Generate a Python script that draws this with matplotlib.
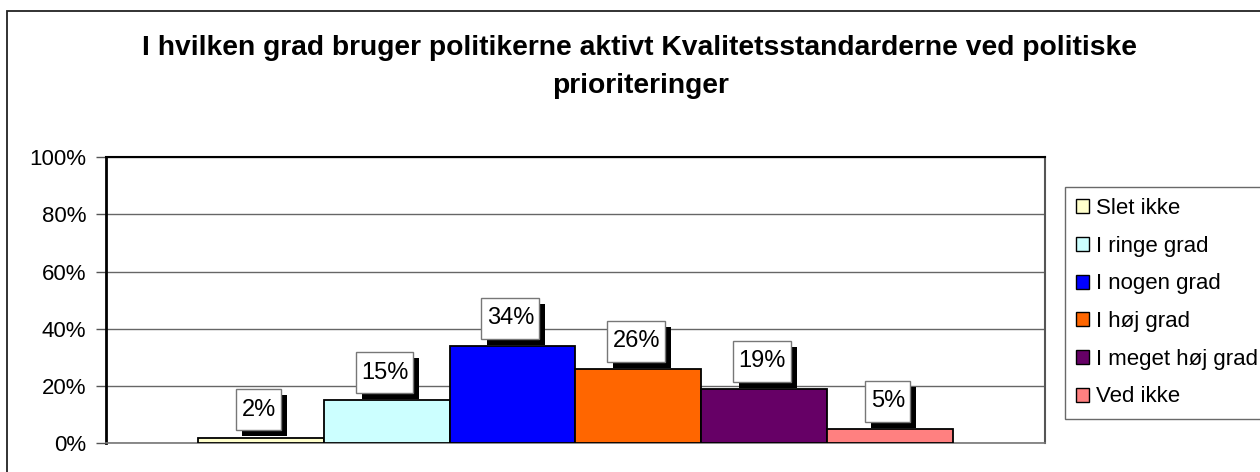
import matplotlib
matplotlib.use("Agg")
import matplotlib.pyplot as plt
import matplotlib.patheffects as pe
from matplotlib.patches import Rectangle, Patch
from matplotlib.path import Path

plt.rcParams['font.family'] = ['Liberation Sans', 'DejaVu Sans']

title_lines = ["I hvilken grad bruger politikerne aktivt Kvalitetsstandarderne ved politiske",
               "prioriteringer"]
categories = ["Slet ikke", "I ringe grad", "I nogen grad", "I høj grad",
              "I meget høj grad", "Ved ikke"]
values = [2, 15, 34, 26, 19, 5]
colors = ["#FFFFCC", "#CCFFFF", "#0000FF", "#FF6600", "#660066", "#FF8080"]
yticks = [0, 20, 40, 60, 80, 100]

W, H = 1260, 472
fig = plt.figure(figsize=(W / 100, H / 100), dpi=100)

# outer chart frame (runs off the right and bottom edge)
fig.patches.append(Rectangle((7 / W, -0.1), 1.2, 1 - 11 / H + 0.1,
                             transform=fig.transFigure, fill=False,
                             edgecolor="#222222", linewidth=1.3))

fig.text(640 / W, 1 - 55 / H, title_lines[0], ha="center", va="baseline",
         fontsize=20.3, fontweight="bold")
fig.text(641 / W, 1 - 93 / H, title_lines[1], ha="center", va="baseline",
         fontsize=20.3, fontweight="bold")

ax = fig.add_axes([105.7 / W, 1 - 443.3 / H, (1045 - 105.7) / W, (443.3 - 157.3) / H])

x = list(range(len(values)))
ax.bar(x, values, width=1.0, color=colors, edgecolor="black", linewidth=1.3, zorder=3)
ax.set_xlim(-0.5 - 0.733, len(values) - 0.5 + 0.733)
ax.set_ylim(0, 100)
ax.set_yticks(yticks)
ax.set_yticklabels([f"{t}%" for t in yticks], fontsize=16)
ax.set_xticks([])
ax.tick_params(axis="y", length=7, width=1, color="#555555", pad=7)
ax.yaxis.grid(True, color="#666666", linewidth=1)
ax.set_axisbelow(True)
ax.spines["left"].set_linewidth(2)
ax.spines["left"].set_color("black")
ax.spines["top"].set_linewidth(1.5)
ax.spines["top"].set_color("black")
ax.spines["right"].set_linewidth(1.5)
ax.spines["right"].set_color("#555555")
ax.spines["bottom"].set_linewidth(1.2)
ax.spines["bottom"].set_color("#777777")


def label_box(x0, y0, width, height, mutation_size):
    px = 0.22 * mutation_size
    py = 0.40 * mutation_size
    return Path([(x0 - px, y0 - py), (x0 + width + px, y0 - py),
                 (x0 + width + px, y0 + height + py), (x0 - px, y0 + height + py),
                 (x0 - px, y0 - py)], closed=True)


for xi, v in zip(x, values):
    t = ax.annotate(f"{v}%", (xi, v), xytext=(-1.5, 12), textcoords="offset points",
                    ha="center", va="bottom", fontsize=17, zorder=5,
                    bbox=dict(boxstyle=label_box, facecolor="white",
                              edgecolor="#777777", linewidth=1))
    t.get_bbox_patch().set_path_effects([
        pe.SimplePatchShadow(offset=(4.3, -4.3), shadow_rgbFace="black", alpha=1),
        pe.Normal()])

handles = [Patch(facecolor=c, edgecolor="black", linewidth=1) for c in colors]
leg = fig.legend(handles, categories, loc="upper left",
                 bbox_to_anchor=(1065 / W, 1 - 187 / H), fontsize=16,
                 frameon=True, fancybox=False, edgecolor="#444444",
                 handlelength=0.6, handleheight=0.6, handletextpad=0.3,
                 labelspacing=0.75, borderpad=0.5, borderaxespad=0)
leg.get_frame().set_linewidth(1)

fig.savefig("out.png", dpi=100)
